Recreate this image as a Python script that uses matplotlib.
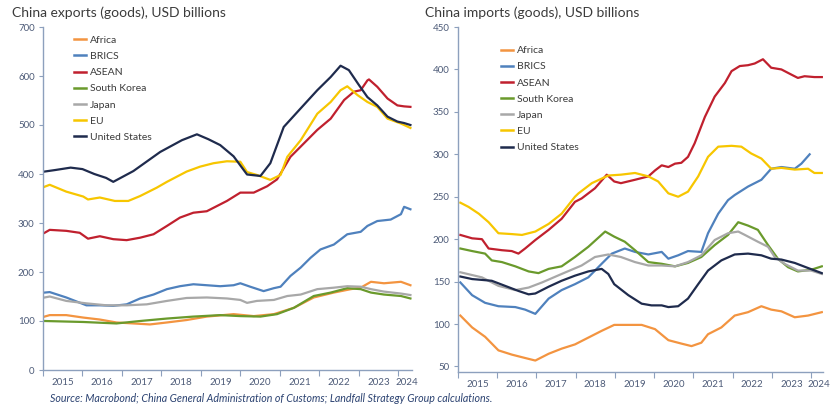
"""China exports / imports by partner, two side-by-side line panels."""
import matplotlib

matplotlib.use("Agg")

import matplotlib.pyplot as plt  # noqa: E402

plt.rcParams["font.family"] = ["Lato", "DejaVu Sans"]

SERIES = ["Africa", "BRICS", "ASEAN", "South Korea", "Japan", "EU", "United States"]
COLORS = {
    "Africa": "#f39440",
    "BRICS": "#4f81bd",
    "ASEAN": "#c0202e",
    "South Korea": "#6a9a2c",
    "Japan": "#a8a8a8",
    "EU": "#f7c600",
    "United States": "#1f2b4d",
}

# ---- exports (decimal year, USD bn)
exp_africa = [(2015.04, 109), (2015.17, 112), (2015.59, 112), (2016.02, 107), (2016.44, 103),
              (2016.86, 97), (2017.29, 95), (2017.71, 93), (2018.14, 97), (2018.64, 102),
              (2019.15, 109), (2019.83, 114), (2020.34, 110), (2020.85, 114), (2021.36, 127),
              (2021.86, 148), (2022.37, 158), (2022.80, 165), (2023.05, 168), (2023.31, 180),
              (2023.64, 177), (2024.07, 180), (2024.31, 173)]
exp_brics = [(2015.04, 158), (2015.17, 159), (2015.59, 148), (2016.10, 132), (2016.44, 132),
             (2016.78, 131), (2017.12, 134), (2017.46, 146), (2017.80, 154), (2018.14, 165),
             (2018.47, 171), (2018.81, 175), (2019.15, 173), (2019.49, 171), (2019.83, 173),
             (2020.00, 177), (2020.25, 170), (2020.59, 161), (2020.85, 167), (2021.02, 170),
             (2021.27, 192), (2021.53, 209), (2021.78, 229), (2022.03, 246), (2022.37, 256),
             (2022.71, 277), (2023.05, 282), (2023.22, 294), (2023.47, 304), (2023.81, 307),
             (2024.07, 318), (2024.15, 333), (2024.31, 328)]
exp_asean = [(2015.04, 280), (2015.17, 286), (2015.59, 284), (2015.93, 280), (2016.14, 268),
             (2016.44, 273), (2016.78, 267), (2017.12, 265), (2017.46, 270), (2017.80, 277),
             (2018.14, 294), (2018.47, 311), (2018.81, 321), (2019.15, 324), (2019.66, 345),
             (2020.00, 362), (2020.34, 362), (2020.68, 375), (2020.93, 389), (2021.02, 401),
             (2021.27, 435), (2021.53, 456), (2021.95, 490), (2022.29, 513), (2022.63, 551),
             (2022.88, 568), (2023.05, 571), (2023.22, 591), (2023.26, 593), (2023.47, 578),
             (2023.73, 554), (2023.98, 540), (2024.15, 538), (2024.31, 537)]
exp_korea = [(2015.04, 100), (2016.02, 98), (2016.86, 95), (2017.46, 100), (2018.14, 105),
             (2018.81, 109), (2019.49, 112), (2020.00, 110), (2020.51, 109), (2020.93, 114),
             (2021.36, 127), (2021.86, 151), (2022.29, 158), (2022.71, 167), (2023.05, 165),
             (2023.31, 158), (2023.64, 154), (2024.07, 151), (2024.31, 146)]
exp_japan = [(2015.04, 148), (2015.17, 150), (2015.59, 141), (2016.10, 136), (2016.61, 132),
             (2017.12, 132), (2017.63, 134), (2018.14, 141), (2018.64, 147), (2019.15, 148),
             (2019.66, 146), (2020.00, 143), (2020.17, 137), (2020.42, 141), (2020.85, 143),
             (2021.19, 151), (2021.53, 154), (2021.95, 165), (2022.37, 168), (2022.71, 171),
             (2023.05, 170), (2023.31, 165), (2023.64, 160), (2024.07, 156), (2024.31, 153)]
exp_eu = [(2015.04, 374), (2015.17, 378), (2015.59, 364), (2016.02, 354), (2016.14, 348),
          (2016.44, 352), (2016.82, 345), (2017.16, 345), (2017.46, 355), (2017.88, 372),
          (2018.14, 384), (2018.64, 405), (2018.98, 415), (2019.32, 422), (2019.66, 426),
          (2020.00, 425), (2020.17, 404), (2020.42, 398), (2020.76, 388), (2021.02, 398),
          (2021.19, 435), (2021.53, 469), (2021.95, 523), (2022.29, 547), (2022.54, 571),
          (2022.71, 579), (2022.97, 561), (2023.22, 547), (2023.47, 537), (2023.73, 513),
          (2024.07, 503), (2024.31, 494)]
exp_us = [(2015.04, 405), (2015.30, 408), (2015.70, 413), (2016.00, 410), (2016.30, 400),
          (2016.60, 392), (2016.78, 384), (2017.29, 406), (2017.97, 445), (2018.52, 469),
          (2018.90, 481), (2019.19, 471), (2019.49, 459), (2019.83, 436), (2020.17, 399),
          (2020.51, 396), (2020.76, 422), (2021.10, 496), (2021.53, 534), (2021.95, 571),
          (2022.29, 598), (2022.54, 621), (2022.75, 612), (2023.01, 581), (2023.22, 557),
          (2023.47, 540), (2023.73, 517), (2023.98, 507), (2024.15, 504), (2024.31, 500)]

# ---- imports (decimal year, USD bn)
imp_africa = [(2015.06, 110), (2015.36, 96), (2015.69, 85), (2016.03, 69), (2016.37, 64),
              (2016.71, 60), (2016.97, 57), (2017.31, 65), (2017.64, 71), (2017.98, 76),
              (2018.32, 84), (2018.66, 92), (2018.98, 99), (2019.34, 99), (2019.68, 99),
              (2020.02, 94), (2020.36, 81), (2020.69, 77), (2020.95, 74), (2021.20, 78),
              (2021.37, 88), (2021.71, 96), (2022.05, 110), (2022.39, 114), (2022.73, 121),
              (2022.98, 117), (2023.24, 115), (2023.58, 108), (2023.92, 110), (2024.27, 114)]
imp_brics = [(2015.06, 149), (2015.36, 134), (2015.69, 125), (2016.03, 121), (2016.46, 120),
             (2016.71, 117), (2016.97, 112), (2017.31, 130), (2017.64, 140), (2017.98, 147),
             (2018.32, 155), (2018.66, 171), (2018.92, 183), (2019.25, 189), (2019.51, 185),
             (2019.85, 182), (2020.19, 185), (2020.36, 177), (2020.61, 181), (2020.86, 186),
             (2021.20, 185), (2021.37, 207), (2021.63, 230), (2021.88, 246), (2022.05, 252),
             (2022.39, 262), (2022.73, 270), (2022.98, 283), (2023.24, 285), (2023.58, 283),
             (2023.75, 289), (2023.96, 300)]
imp_asean = [(2015.06, 205), (2015.36, 201), (2015.61, 200), (2015.78, 189), (2016.12, 187),
             (2016.37, 186), (2016.54, 183), (2016.71, 189), (2016.97, 199), (2017.31, 211),
             (2017.64, 224), (2017.98, 244), (2018.15, 248), (2018.49, 260), (2018.79, 276),
             (2018.98, 268), (2019.15, 266), (2019.51, 270), (2019.85, 274), (2020.02, 281),
             (2020.19, 287), (2020.36, 285), (2020.53, 289), (2020.69, 290), (2020.86, 297),
             (2021.03, 313), (2021.29, 344), (2021.54, 368), (2021.80, 384), (2021.97, 398),
             (2022.18, 404), (2022.39, 405), (2022.56, 407), (2022.77, 412), (2022.98, 402),
             (2023.24, 400), (2023.49, 394), (2023.66, 390), (2023.83, 392), (2024.08, 391),
             (2024.27, 391)]
imp_korea = [(2015.06, 189), (2015.36, 186), (2015.69, 183), (2015.86, 175), (2016.12, 173),
             (2016.46, 168), (2016.80, 162), (2017.05, 160), (2017.31, 165), (2017.64, 168),
             (2017.98, 179), (2018.32, 191), (2018.75, 209), (2018.98, 203), (2019.25, 197),
             (2019.51, 187), (2019.85, 173), (2020.19, 171), (2020.53, 168), (2020.86, 172),
             (2021.20, 179), (2021.54, 193), (2021.88, 205), (2022.14, 220), (2022.39, 216),
             (2022.64, 211), (2022.90, 193), (2023.15, 177), (2023.41, 167), (2023.66, 162),
             (2024.00, 164), (2024.27, 168)]
imp_japan = [(2015.06, 161), (2015.61, 155), (2016.03, 145), (2016.46, 140), (2016.80, 143),
             (2017.14, 149), (2017.64, 159), (2018.15, 169), (2018.49, 179), (2018.83, 182),
             (2019.15, 179), (2019.51, 173), (2019.85, 169), (2020.19, 169), (2020.53, 168),
             (2020.86, 173), (2021.20, 181), (2021.54, 199), (2021.88, 207), (2022.14, 209),
             (2022.31, 205), (2022.64, 197), (2022.90, 191), (2023.07, 179), (2023.32, 171),
             (2023.66, 163), (2024.00, 163), (2024.27, 159)]
imp_eu = [(2015.06, 243), (2015.27, 238), (2015.53, 230), (2015.78, 220), (2016.03, 207),
          (2016.37, 206), (2016.63, 205), (2016.97, 209), (2017.31, 218), (2017.64, 230),
          (2017.98, 250), (2018.07, 254), (2018.41, 266), (2018.83, 275), (2019.15, 276),
          (2019.51, 278), (2019.85, 274), (2020.10, 268), (2020.36, 254), (2020.61, 250),
          (2020.86, 256), (2021.12, 274), (2021.37, 297), (2021.63, 309), (2021.97, 310),
          (2022.22, 309), (2022.47, 301), (2022.73, 295), (2022.98, 283), (2023.24, 284),
          (2023.58, 282), (2023.92, 283), (2024.08, 278), (2024.27, 278)]
imp_us = [(2015.06, 156), (2015.36, 153), (2015.86, 151), (2016.20, 145), (2016.54, 139),
          (2016.80, 135), (2016.97, 136), (2017.31, 144), (2017.64, 151), (2017.98, 157),
          (2018.32, 162), (2018.66, 165), (2018.83, 159), (2018.98, 147), (2019.34, 134),
          (2019.68, 124), (2019.93, 122), (2020.19, 122), (2020.36, 120), (2020.61, 121),
          (2020.86, 130), (2021.12, 147), (2021.37, 163), (2021.71, 175), (2022.05, 182),
          (2022.39, 183), (2022.73, 181), (2022.98, 177), (2023.24, 176), (2023.58, 172),
          (2023.92, 166), (2024.27, 160)]

exports = dict(zip(SERIES, [exp_africa, exp_brics, exp_asean, exp_korea, exp_japan, exp_eu, exp_us]))
imports = dict(zip(SERIES, [imp_africa, imp_brics, imp_asean, imp_korea, imp_japan, imp_eu, imp_us]))

YEARS = list(range(2015, 2025))
AXIS_COLOR = "#8da0bd"
TICK_COLOR = "#4d5b78"
TEXT_COLOR = "#3b3b3b"


def draw_panel(ax, data, ylim, yticks, xmax, legend_anchor):
    for name in SERIES:
        pts = data[name]
        ax.plot([p[0] for p in pts], [p[1] for p in pts], color=COLORS[name],
                linewidth=1.6, label=name, solid_joinstyle="round")
    ax.set_xlim(2015.0, xmax)
    ax.set_ylim(*ylim)
    ax.set_yticks(yticks)
    ax.set_xticks(YEARS)
    ax.set_xticklabels([])
    # year labels sit in the middle of each year interval
    mids = [y + 0.5 for y in YEARS[:-1]] + [(2024 + xmax) / 2 + 0.05]
    ax.set_xticks(mids, minor=True)
    ax.set_xticklabels([str(y) for y in YEARS], minor=True)
    ax.tick_params(axis="x", which="major", length=4, width=0.8, color=AXIS_COLOR)
    ax.tick_params(axis="x", which="minor", length=0, pad=6, labelsize=7, labelcolor=TICK_COLOR)
    ax.tick_params(axis="y", length=3, width=0.8, color=AXIS_COLOR, labelsize=7,
                   labelcolor=TICK_COLOR, pad=3)
    for side in ("top", "right"):
        ax.spines[side].set_visible(False)
    for side in ("left", "bottom"):
        ax.spines[side].set_color(AXIS_COLOR)
        ax.spines[side].set_linewidth(1.0)
    leg = ax.legend(loc="upper left", bbox_to_anchor=legend_anchor, frameon=False,
                    fontsize=7.5, handlelength=1.2, handletextpad=0.35, labelspacing=0.66,
                    borderaxespad=0, borderpad=0)
    for t in leg.get_texts():
        t.set_color(TEXT_COLOR)
    for h in leg.get_lines():
        h.set_linewidth(1.8)


fig = plt.figure(figsize=(8.31, 4.12), dpi=100)
fig.patch.set_facecolor("white")

ax_exp = fig.add_axes((43 / 831, 42 / 412, 369 / 831, 343 / 412))
draw_panel(ax_exp, exports, (0, 700), range(0, 701, 100), 2024.35, (0.083, 0.975))

ax_imp = fig.add_axes((458 / 831, 40 / 412, 365 / 831, 345 / 412))
draw_panel(ax_imp, imports, (43.5, 450), range(50, 451, 50), 2024.3, (0.117, 0.945))

fig.text(12 / 831, 1 - 13 / 412, "China exports (goods), USD billions", fontsize=10,
         color=TEXT_COLOR, ha="left", va="center")
fig.text(425 / 831, 1 - 13 / 412, "China imports (goods), USD billions", fontsize=10,
         color=TEXT_COLOR, ha="left", va="center")
fig.text(50 / 831, 1 - 398 / 412,
         "Source: Macrobond; China General Administration of Customs; Landfall Strategy Group calculations.",
         fontsize=7.7, style="italic", color="#2a4170", ha="left", va="center")

fig.savefig("out.png", dpi=100)
